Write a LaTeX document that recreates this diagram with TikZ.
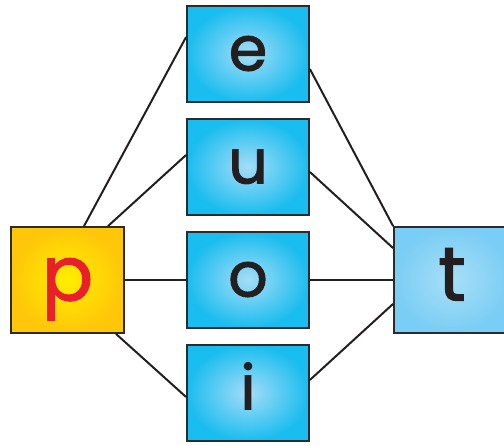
\documentclass[tikz,border=0pt]{standalone}
\usepackage{fontspec}
\newfontfamily\letterfont[FakeBold=1.6]{Poppins}
\definecolor{edgegray}{HTML}{2B2B2B}
\definecolor{yelin}{HTML}{FFEE00}
\definecolor{yelout}{HTML}{FFC60A}
\definecolor{bluein}{HTML}{A4DDF8}
\definecolor{blueout}{HTML}{1ABDEF}
\definecolor{tin}{HTML}{A8DFF8}
\definecolor{tout}{HTML}{7ACDF4}
\definecolor{pred}{HTML}{E8202A}
\definecolor{ink}{HTML}{231F20}
\tikzset{
  box/.style={rectangle, draw=edgegray, line width=1.8pt, inner sep=0pt,
    shading=radial, text height=33pt, text depth=0pt},
  midbox/.style={box, minimum width=122pt, minimum height=96pt,
    inner color=bluein, outer color=blueout,
    font=\letterfont\fontsize{62}{62}\selectfont, text=ink},
  pbox/.style={box, minimum width=113pt, minimum height=106pt,
    inner color=yelin, outer color=yelout,
    font=\letterfont\fontsize{76}{76}\selectfont, text=pred, text height=41pt},
  tbox/.style={box, minimum width=116pt, minimum height=106pt,
    inner color=tin, outer color=tout,
    font=\letterfont\fontsize{76}{76}\selectfont, text=ink, text height=41pt},
  link/.style={draw=ink, line width=2pt}
}
\begin{document}
\begin{tikzpicture}[x=1pt,y=-1pt]
\useasboundingbox (0,0) rectangle (504,446);
\clip (0,0) rectangle (504,446);
\node[pbox] (p) at (67.5,280) {p};
\node[midbox] (e) at (248,54) {e};
\node[midbox] (u) at (248,167) {u};
\node[midbox] (o) at (248,280) {o};
\node[midbox] (i) at (248,393) {i};
\node[tbox] (t) at (452,280) {t};
\draw[link] ([xshift=16.5pt]p.north) -- ([yshift=17pt]e.west);
\draw[link] ([xshift=40.5pt]p.north) -- ([yshift=12pt]u.west);
\draw[link] (p.east) -- (o.west);
\draw[link] ([xshift=48.5pt]p.south) -- ([yshift=-4pt]i.west);
\draw[link] ([yshift=-15pt]e.east) -- (t.north west);
\draw[link] ([yshift=-5pt]u.east) -- ([yshift=-22pt]t.north west);
\draw[link] (o.east) -- (t.west);
\draw[link] ([yshift=13pt]i.east) -- ([yshift=30pt]t.south west);
\end{tikzpicture}
\end{document}
